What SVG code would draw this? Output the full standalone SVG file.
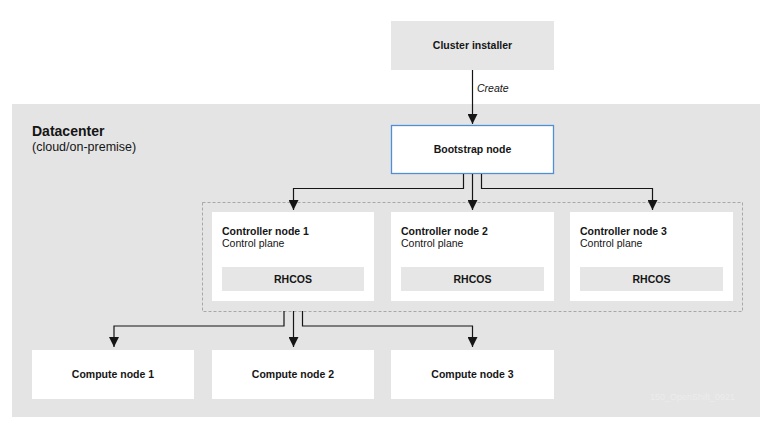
<svg xmlns="http://www.w3.org/2000/svg" width="770" height="426" viewBox="0 0 770 426">
  <defs>
    <marker id="arrow" viewBox="0 0 10 10" refX="10" refY="5" markerWidth="10" markerHeight="10" markerUnits="userSpaceOnUse" orient="auto">
      <path d="M0,0 L10,5 L0,10 z" fill="#151515"/>
    </marker>
    <style>
      .t { font-family: "Liberation Sans", Arial, sans-serif; fill: #151515; }
      .b { font-weight: bold; font-size: 10.5px; }
      .r { font-size: 10.5px; }
      .box { fill: #ffffff; }
      .grey { fill: #e6e6e6; }
      .edge { fill: none; stroke: #151515; stroke-width: 1.2; marker-end: url(#arrow); }
    </style>
  </defs>

  <rect width="770" height="426" fill="#ffffff"/>

  <!-- Datacenter area -->
  <g id="datacenter">
    <rect x="12" y="104" width="748" height="313" fill="#e4e4e4"/>
    <text class="t" x="32" y="136" font-size="14" font-weight="bold">Datacenter</text>
    <text class="t" x="32" y="151" font-size="12.5">(cloud/on-premise)</text>
  </g>

  <!-- Control plane group -->
  <g id="control-plane-group">
    <rect x="202.5" y="202.5" width="540" height="109" fill="none" stroke="#a8a8a8" stroke-width="1" stroke-dasharray="3,2"/>
  </g>

  <g id="cluster-installer">
    <rect class="grey" x="391" y="21" width="163" height="49"/>
    <text class="t b" x="472.5" y="49" text-anchor="middle">Cluster installer</text>
  </g>

  <g id="bootstrap-node">
    <rect x="391.5" y="125.5" width="162" height="48" fill="#ffffff" stroke="#4f8fd8" stroke-width="1.3"/>
    <text class="t b" x="472.5" y="153" text-anchor="middle">Bootstrap node</text>
  </g>

  <g id="controller-node-1">
    <rect class="box" x="212" y="212" width="162" height="89"/>
    <text class="t b" x="222" y="235">Controller node 1</text>
    <text class="t r" x="222" y="247">Control plane</text>
    <rect class="grey" x="222" y="267" width="142" height="24"/>
    <text class="t b" x="293" y="283" text-anchor="middle">RHCOS</text>
  </g>

  <g id="controller-node-2">
    <rect class="box" x="391" y="212" width="163" height="89"/>
    <text class="t b" x="401" y="235">Controller node 2</text>
    <text class="t r" x="401" y="247">Control plane</text>
    <rect class="grey" x="401" y="267" width="143" height="24"/>
    <text class="t b" x="472.5" y="283" text-anchor="middle">RHCOS</text>
  </g>

  <g id="controller-node-3">
    <rect class="box" x="570" y="212" width="163" height="89"/>
    <text class="t b" x="580" y="235">Controller node 3</text>
    <text class="t r" x="580" y="247">Control plane</text>
    <rect class="grey" x="580" y="267" width="143" height="24"/>
    <text class="t b" x="651.5" y="283" text-anchor="middle">RHCOS</text>
  </g>

  <g id="compute-node-1">
    <rect class="box" x="32" y="350" width="162" height="49"/>
    <text class="t b" x="113" y="378" text-anchor="middle">Compute node 1</text>
  </g>

  <g id="compute-node-2">
    <rect class="box" x="212" y="350" width="162" height="49"/>
    <text class="t b" x="293" y="378" text-anchor="middle">Compute node 2</text>
  </g>

  <g id="compute-node-3">
    <rect class="box" x="391" y="350" width="163" height="49"/>
    <text class="t b" x="472.5" y="378" text-anchor="middle">Compute node 3</text>
  </g>

  <!-- Connectors -->
  <g id="connectors">
    <path class="edge" d="M472.5,70 V124"/>
    <text class="t" x="477" y="92" font-size="10.5" font-style="italic" fill="#3c3c3c">Create</text>

    <path class="edge" d="M463.5,174 V188.5 H293.5 V210"/>
    <path class="edge" d="M472.5,174 V210"/>
    <path class="edge" d="M481.5,174 V188.5 H652.5 V210"/>

    <path class="edge" d="M284,311 V326 H114 V347"/>
    <path class="edge" d="M293.5,311 V347"/>
    <path class="edge" d="M302.5,311 V326 H472.5 V347"/>
  </g>

  <text class="t" x="650" y="400" font-size="9" style="fill:#ececec">150_OpenShift_0921</text>
</svg>
